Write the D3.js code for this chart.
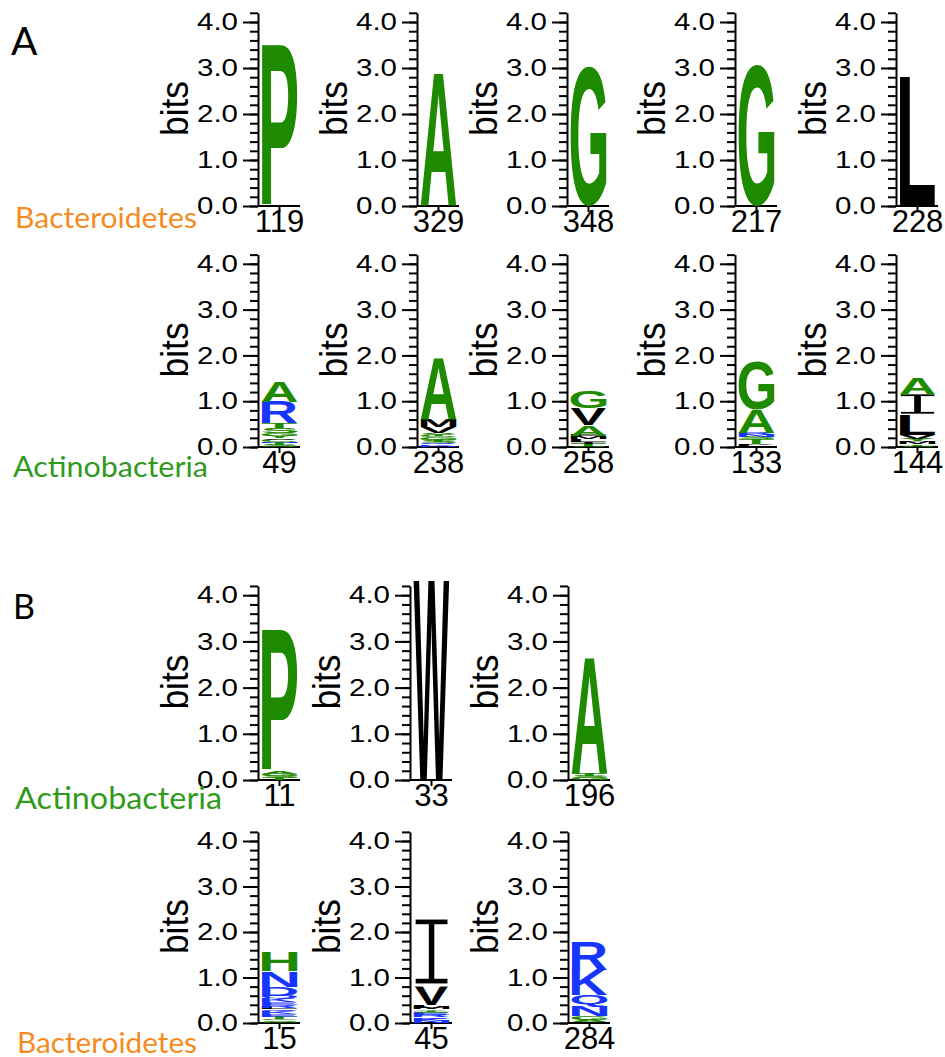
<!DOCTYPE html>
<html><head><meta charset="utf-8">
<script src="https://cdn.jsdelivr.net/npm/d3@7"></script>
<style>body{margin:0;background:#fff}</style>
</head><body>
<svg id="chart" width="945" height="1057" xmlns="http://www.w3.org/2000/svg"></svg>
<script>
// ---------------- DATA ----------------
const panelLetters = ["A", "B"];
const rowTaxa = ["Bacteroidetes", "Actinobacteria", "Actinobacteria", "Bacteroidetes"];

const tickValues = [0, 1, 2, 3, 4];
const tickLabels = ["0.0", "1.0", "2.0", "3.0", "4.0"];
const minorTickValues = [0, 0.2, 0.4, 0.6, 0.8, 1, 1.2, 1.4, 1.6, 1.8, 2, 2.2, 2.4, 2.6, 2.8, 3, 3.2, 3.4, 3.6, 3.8, 4, 4.2];
const axisLabel = "bits";

// stacks listed bottom -> top as [residue, bits]
const rowA1Positions = ["119", "329", "348", "217", "228"];
const rowA1Stacks = [
  [["P", 3.50]],
  [["A", 2.92]],
  [["G", 3.05]],
  [["G", 3.06]],
  [["L", 2.80]]
];

const rowA2Positions = ["49", "238", "258", "133", "144"];
const rowA2Stacks = [
  [["S", 0.04], ["T", 0.04], ["N", 0.03], ["C", 0.05], ["V", 0.03], ["Y", 0.05], ["G", 0.06], ["S", 0.12], ["T", 0.10], ["R", 0.46], ["A", 0.44]],
  [["N", 0.03], ["K", 0.03], ["Q", 0.02], ["S", 0.04], ["T", 0.04], ["G", 0.05], ["C", 0.04], ["Y", 0.06], ["V", 0.13], ["M", 0.16], ["A", 1.37]],
  [["S", 0.03], ["T", 0.04], ["I", 0.05], ["L", 0.05], ["M", 0.04], ["F", 0.04], ["A", 0.22], ["V", 0.37], ["G", 0.36]],
  [["L", 0.04], ["V", 0.03], ["T", 0.10], ["S", 0.04], ["N", 0.05], ["R", 0.05], ["A", 0.50], ["G", 1.05]],
  [["S", 0.03], ["T", 0.03], ["M", 0.04], ["F", 0.03], ["Y", 0.04], ["V", 0.09], ["L", 0.45], ["I", 0.42], ["A", 0.36]]
];

const rowB1Positions = ["11", "33", "196"];
const rowB1Stacks = [
  [["T", 0.04], ["S", 0.05], ["G", 0.05], ["A", 0.06], ["P", 3.07]],
  [["W", 4.32]],
  [["G", 0.04], ["S", 0.05], ["T", 0.04], ["C", 0.03], ["A", 2.52]]
];

const rowB2Positions = ["15", "45", "284"];
const rowB2Stacks = [
  [["G", 0.03], ["S", 0.03], ["C", 0.03], ["T", 0.04], ["E", 0.06], ["K", 0.06], ["Q", 0.05], ["L", 0.04], ["R", 0.06], ["E", 0.06], ["K", 0.07], ["Q", 0.07], ["D", 0.20], ["N", 0.35], ["H", 0.43]],
  [["N", 0.04], ["K", 0.05], ["Q", 0.04], ["R", 0.04], ["E", 0.04], ["S", 0.03], ["T", 0.03], ["Y", 0.03], ["M", 0.04], ["L", 0.05], ["V", 0.45], ["I", 1.47]],
  [["L", 0.03], ["A", 0.04], ["G", 0.08], ["N", 0.22], ["Q", 0.24], ["K", 0.56], ["R", 0.63]]
];

const greenResidues = ["A", "G", "P", "H", "S", "T", "C", "Y"];
const blueResidues = ["R", "K", "N", "Q", "D", "E"];
const blackResidues = ["L", "V", "I", "M", "W", "F"];

// ---------------- LAYOUT / STYLE ----------------
const GREEN = "#1e8a00", BLUE = "#1636ff", BLACK = "#000";
const colorOf = r => greenResidues.includes(r) ? GREEN : blueResidues.includes(r) ? BLUE : BLACK;
const taxonColor = { "Bacteroidetes": "#f58b1f", "Actinobacteria": "#2f9a1c" };

const colsA = [258, 417, 567, 735, 896];
const colsB = [258, 410, 568];
const rows = [
  { baseline: 206, pxPerBit: 46.0, cols: colsA, positions: rowA1Positions, stacks: rowA1Stacks,
    taxon: { text: rowTaxa[0], x: 15, y: 228, size: 29, len: 182 } },
  { baseline: 447, pxPerBit: 45.8, cols: colsA, positions: rowA2Positions, stacks: rowA2Stacks,
    taxon: { text: rowTaxa[1], x: 13, y: 477, size: 29, len: 195 } },
  { baseline: 780, pxPerBit: 46.2, cols: colsB, positions: rowB1Positions, stacks: rowB1Stacks,
    taxon: { text: rowTaxa[2], x: 15, y: 809, size: 31, len: 207 } },
  { baseline: 1023, pxPerBit: 45.5, cols: colsB, positions: rowB2Positions, stacks: rowB2Stacks,
    taxon: { text: rowTaxa[3], x: 17, y: 1053, size: 28, len: 180 } }
];

const svg = d3.select("#chart");
svg.append("rect").attr("width", 945).attr("height", 1057).attr("fill", "#fff");

// ink bounding boxes of glyphs, measured on a canvas
const ctx = document.createElement("canvas").getContext("2d");
const glyphFont = r => r === "I" ? "'Liberation Mono', 'DejaVu Sans Mono', monospace" : "'Liberation Sans', Arial, sans-serif";
const glyphWeight = r => r === "I" ? "normal" : "bold";
const inkCache = {};
function ink(r) {
  if (inkCache[r]) return inkCache[r];
  ctx.font = glyphWeight(r) + " 100px " + glyphFont(r);
  const m = ctx.measureText(r);
  return (inkCache[r] = { l: m.actualBoundingBoxLeft, r: m.actualBoundingBoxRight, a: m.actualBoundingBoxAscent, d: m.actualBoundingBoxDescent });
}

const NUMFONT = "'Liberation Sans', Arial, Helvetica, sans-serif";
const LABELFONT = "Lato, 'Open Sans', sans-serif";

rows.forEach(row => {
  const y = d3.scaleLinear().domain([0, 4.2]).range([row.baseline, row.baseline - 4.2 * row.pxPerBit]);

  row.cols.forEach((ax, i) => {
    const g = svg.append("g");
    const pos = row.positions[i];
    const x = d3.scaleBand().domain([pos]).range([ax, ax + 43]).paddingOuter(0.1);

    // minor ticks + axis line
    g.append("g").attr("transform", `translate(${ax},0)`)
      .call(d3.axisLeft(y).tickValues(minorTickValues).tickSize(8).tickSizeOuter(0).tickFormat(""))
      .call(s => s.selectAll("line,path").attr("stroke", "#000").attr("stroke-width", 2));
    // major ticks
    g.append("g").attr("transform", `translate(${ax},0)`)
      .call(d3.axisLeft(y).tickValues(tickValues).tickSize(15).tickPadding(5)
        .tickFormat((d, k) => tickLabels[k]))
      .call(s => s.select(".domain").remove())
      .call(s => s.selectAll("line").attr("stroke", "#000").attr("stroke-width", 2))
      .call(s => s.selectAll("text").attr("fill", "#000").style("font-family", NUMFONT)
        .style("font-size", "24px").attr("textLength", 41).attr("lengthAdjust", "spacingAndGlyphs"));

    // bits label
    g.append("text").text(axisLabel)
      .attr("transform", `translate(${ax - 70},${y(2.12)}) rotate(-90)`)
      .attr("text-anchor", "middle")
      .style("font-family", NUMFONT).style("font-size", "38px")
      .attr("textLength", 55).attr("lengthAdjust", "spacingAndGlyphs");

    // bottom axis with position label
    g.append("g").attr("transform", `translate(0,${row.baseline})`)
      .call(d3.axisBottom(x).tickSize(6).tickSizeOuter(0).tickPadding(-2))
      .call(s => s.select(".domain").attr("d", `M${ax},0H${ax + 42}`).attr("stroke", "#000").attr("stroke-width", 2))
      .call(s => s.selectAll("line").attr("stroke", "#000").attr("stroke-width", 2))
      .call(s => s.selectAll("text").attr("fill", "#000").style("font-family", NUMFONT).style("font-size", "31px"));

    // stacked letters
    let cum = 0;
    const x0 = x(pos), w = x.bandwidth();
    row.stacks[i].forEach(([res, bits]) => {
      const yBot = y(cum), yTop = y(cum + bits);
      cum += bits;
      const h = yBot - yTop;
      const b = ink(res);
      const sx = w / (b.l + b.r), sy = h / (b.a + b.d);
      const t = g.append("text").text(res)
        .attr("transform", `translate(${x0},${yTop}) scale(${sx},${sy}) translate(${b.l},${b.a})`)
        .attr("fill", colorOf(res))
        .style("font-family", glyphFont(res)).style("font-weight", glyphWeight(res)).style("font-size", "100px");
      if (res === "I") {
        // thin the strokes of the serif I, as in the reference logo
        t.attr("stroke", "#fff").attr("stroke-width", Math.min(2.6, h * 0.045))
          .attr("vector-effect", "non-scaling-stroke");
      }
    });
  });

  // taxon label
  svg.append("text").text(row.taxon.text)
    .attr("x", row.taxon.x).attr("y", row.taxon.y)
    .attr("fill", taxonColor[row.taxon.text])
    .style("font-family", LABELFONT).style("font-size", row.taxon.size + "px")
    .attr("textLength", row.taxon.len).attr("lengthAdjust", "spacingAndGlyphs");
});

// panel letters
svg.append("text").text(panelLetters[0]).attr("x", 11).attr("y", 55)
  .style("font-family", LABELFONT).style("font-size", "39px");
svg.append("text").text(panelLetters[1]).attr("x", 13).attr("y", 619)
  .style("font-family", LABELFONT).style("font-size", "34px");
</script>
</body></html>
